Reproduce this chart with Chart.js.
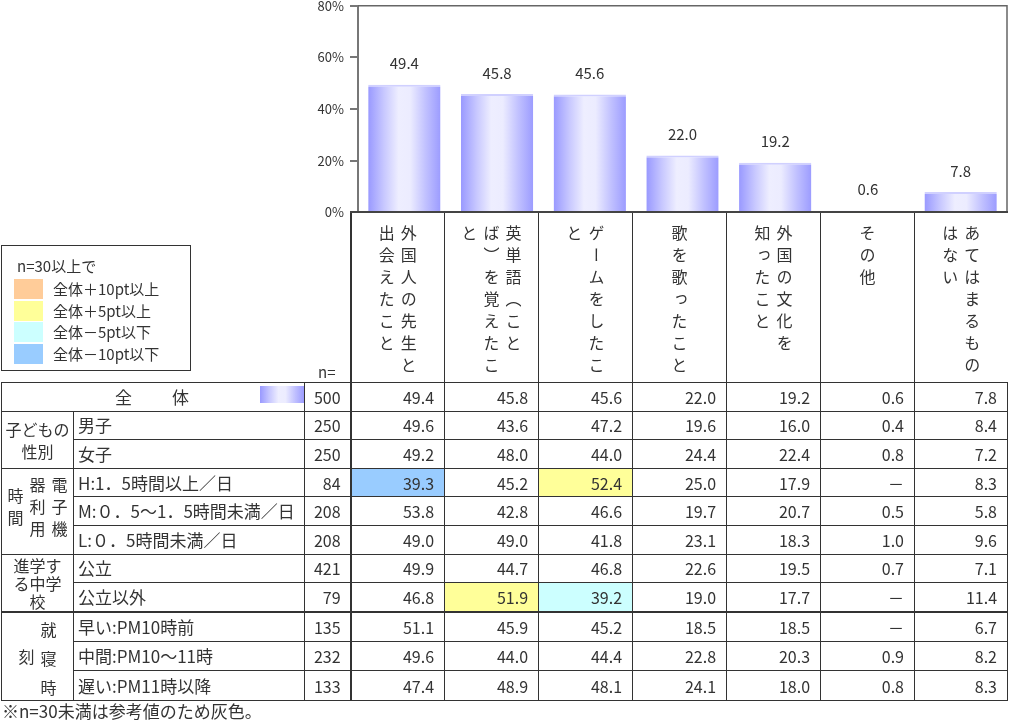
<!DOCTYPE html>
<html lang="ja">
<head>
<meta charset="utf-8">
<script src="https://cdn.jsdelivr.net/npm/chart.js"></script>
<style>
  body { margin: 0; width: 1010px; height: 720px; position: relative; overflow: hidden;
         background: #fff; color: #333; font-family: "Noto Sans CJK JP", sans-serif; }
  #chartBox { position: absolute; left: 0; top: -8px; width: 1010px; height: 234px; }
  #tbl { position: absolute; left: 1px; top: 211px; width: 1006px; border-collapse: collapse; table-layout: fixed; }
  #tbl td { padding: 0; font-size: 16px; line-height: 20px; height: 27.6px; white-space: nowrap; overflow: hidden; }
  #tbl tr.head td { height: 164px; vertical-align: top; }
  #tbl td.blank { border: none; }
  #tbl td.cat { border-left: 1px solid #333; border-top: 2px solid #444; text-align: center; }
  #tbl td.cat.first { border-left: 2px solid #333; }
  #tbl td.cat .v { display: inline-block; writing-mode: vertical-rl; height: 154px; margin-top: 12px;
                   font-size: 16px; line-height: 22px; letter-spacing: 6px; text-align: start; white-space: nowrap; }
  #tbl td.grp { border: 1px solid #333; text-align: center; vertical-align: middle; white-space: normal; }
  #tbl td.lbl { border: 1px solid #333; padding-left: 4px; font-size: 17px; }
  #tbl td.n { border: 1px solid #333; text-align: right; padding-right: 9px; }
  #tbl td.val { border: 1px solid #333; text-align: right; padding-right: 10px; }
  #tbl td.val.first { border-left: 2px solid #333; }
  #tbl tr.sub td.lbl, #tbl tr.sub td.n, #tbl tr.sub td.val { border-top: 1px dashed #999; }
  #tbl tr.thick td { border-top: 2px solid #333; }
  .vg { display: inline-block; writing-mode: vertical-rl; font-size: 16px; line-height: 22px; letter-spacing: 6px;
        text-align: center; white-space: nowrap; }
  #legend { position: absolute; left: 1px; top: 245px; width: 188px; height: 124px; border: 1px solid #333; background: #fff; }
  #legend .t { position: absolute; left: 15px; top: 9px; font-size: 15px; }
  #legend .sw { position: absolute; left: 12px; width: 29px; height: 20px; }
  #legend .tx { position: absolute; left: 51px; font-size: 15px; line-height: 20px; }
  #nlab { position: absolute; left: 318px; top: 361px; font-size: 15px; }
  #swatch { position: absolute; left: 260px; top: 386px; width: 44px; height: 17px;
            background: linear-gradient(to right, #9999ff, #c8c8ff 22%, #eeeeff 42%, #ececff 58%, #c0c0ff 80%, #9c9cff); }
  #note { position: absolute; left: 2px; top: 701px; font-size: 17px; line-height: 20px; }
</style>
</head>
<body>
<div id="chartBox"><canvas id="barChart" width="1010" height="234"></canvas></div>
<table id="tbl"></table>
<div id="legend"></div>
<div id="nlab">n=</div>
<div id="swatch"></div>
<div id="note">※n=30未満は参考値のため灰色。</div>

<script>
// categories, written as the lines shown in the vertical header
const categories = [
    ['外国人の先生と', '出会えたこと'],
    ['英単語（こと', 'ば）を覚えたこ', 'と'],
    ['ゲームをしたこ', 'と'],
    ['歌を歌ったこと'],
    ['外国の文化を', '知ったこと'],
    ['その他'],
    ['あてはまるもの', 'はない'],
];
const totalN = 500;
const totalValues = [49.4, 45.8, 45.6, 22.0, 19.2, 0.6, 7.8];
const yTicks = [0, 20, 40, 60, 80];

const groupLabels = ['子どもの<br>性別', '電子機<br>器利用<br>時間', '進学す<br>る中学<br>校', '就寝時<br>刻'];
const groupSizes = [2, 3, 2, 3];
const rowLabels = ['男子', '女子', 'H:1．5時間以上／日', 'M:０．5～1．5時間未満／日', 'L:０．5時間未満／日',
    '公立', '公立以外', '早い:PM10時前', '中間:PM10～11時', '遅い:PM11時以降'];
const rowN = [250, 250, 84, 208, 208, 421, 79, 135, 232, 133];
const rowValues = [
    [49.6, 43.6, 47.2, 19.6, 16.0, 0.4, 8.4],
    [49.2, 48.0, 44.0, 24.4, 22.4, 0.8, 7.2],
    [39.3, 45.2, 52.4, 25.0, 17.9, null, 8.3],
    [53.8, 42.8, 46.6, 19.7, 20.7, 0.5, 5.8],
    [49.0, 49.0, 41.8, 23.1, 18.3, 1.0, 9.6],
    [49.9, 44.7, 46.8, 22.6, 19.5, 0.7, 7.1],
    [46.8, 51.9, 39.2, 19.0, 17.7, null, 11.4],
    [51.1, 45.9, 45.2, 18.5, 18.5, null, 6.7],
    [49.6, 44.0, 44.4, 22.8, 20.3, 0.9, 8.2],
    [47.4, 48.9, 48.1, 24.1, 18.0, 0.8, 8.3],
];

const legendLabels = ['全体＋10pt以上', '全体＋5pt以上', '全体－5pt以下', '全体－10pt以下'];
const legendColors = ['#ffcc99', '#ffff99', '#ccffff', '#99ccff'];

function cellColor(v, total, n) {
    if (v === null || n < 30) return '';
    const d = v - total;
    if (d >= 10) return legendColors[0];
    if (d >= 5) return legendColors[1];
    if (d <= -10) return legendColors[3];
    if (d <= -5) return legendColors[2];
    return '';
}

// ---- table ----
let html = '<colgroup><col style="width:72px"><col style="width:231px"><col style="width:46px">';
for (let i = 0; i < 7; i++) html += `<col style="width:${i < 6 ? 94 : 93}px">`;
html += '</colgroup><tbody>';

html += '<tr class="head"><td class="blank" colspan="3"></td>';
categories.forEach((lines, i) => {
    html += `<td class="cat${i === 0 ? ' first' : ''}"><div class="v">${lines.join('<br>')}</div></td>`;
});
html += '</tr>';

html += `<tr><td class="lbl" colspan="2" style="text-align:center;padding-left:0;letter-spacing:2px">全　　体</td><td class="n">${totalN}</td>`;
totalValues.forEach((v, i) => {
    html += `<td class="val${i === 0 ? ' first' : ''}">${v.toFixed(1)}</td>`;
});
html += '</tr>';

let r = 0;
groupLabels.forEach((g, gi) => {
    for (let k = 0; k < groupSizes[gi]; k++) {
        let cls = k > 0 ? 'sub' : (gi === 3 ? 'thick' : '');
        html += `<tr class="${cls}">`;
        if (k === 0) {
            let inner;
            if (gi === 1) inner = `<div class="vg" style="height:66px">${g}</div>`;
            else if (gi === 3) inner = `<div class="vg" style="height:84px;letter-spacing:13px;position:relative;top:9px">${g}</div>`;
            else if (gi === 2) inner = `<div style="font-size:16px;line-height:18px;height:54px;overflow:hidden">${g}</div>`;
            else inner = `<div style="line-height:22px">${g}</div>`;
            html += `<td class="grp" rowspan="${groupSizes[gi]}">${inner}</td>`;
        }
        html += `<td class="lbl">${rowLabels[r]}</td><td class="n">${rowN[r]}</td>`;
        rowValues[r].forEach((v, i) => {
            const bg = cellColor(v, totalValues[i], rowN[r]);
            html += `<td class="val${i === 0 ? ' first' : ''}"${bg ? ` style="background:${bg}"` : ''}>${v === null ? '－' : v.toFixed(1)}</td>`;
        });
        html += '</tr>';
        r++;
    }
});
html += '</tbody>';
document.getElementById('tbl').innerHTML = html;

// ---- legend ----
let lg = '<div class="t">n=30以上で</div>';
legendLabels.forEach((t, i) => {
    const top = 33 + i * 21.7;
    lg += `<div class="sw" style="top:${top}px;background:${legendColors[i]}"></div>`;
    lg += `<div class="tx" style="top:${top}px">${t}</div>`;
});
document.getElementById('legend').innerHTML = lg;

// ---- chart ----
const barLabels = {
    id: 'barLabels',
    afterDatasetsDraw(chart) {
        const c = chart.ctx;
        c.save();
        c.font = '15px "Noto Sans CJK JP"';
        c.fillStyle = '#333';
        c.textAlign = 'center';
        c.textBaseline = 'middle';
        chart.getDatasetMeta(0).data.forEach((bar, i) => {
            c.fillText(totalValues[i].toFixed(1), bar.x, bar.y - 21);
        });
        c.restore();
    }
};

const plotFrame = {
    id: 'plotFrame',
    afterDraw(chart) {
        const a = chart.chartArea;
        const c = chart.ctx;
        c.save();
        c.strokeStyle = '#666';
        c.lineWidth = 1.5;
        c.beginPath();
        c.moveTo(a.left, a.top);
        c.lineTo(a.right, a.top);
        c.lineTo(a.right, a.bottom);
        c.stroke();
        c.restore();
    }
};

function barGradient(c) {
    const chart = c.chart;
    const xs = chart.scales.x;
    if (c.type !== 'data' || !xs) return '#b8b8ff';
    const cx = xs.getPixelForValue(c.dataIndex);
    const half = (xs.width / categories.length) * 0.78 / 2;
    if (!isFinite(cx) || !isFinite(half) || half <= 0) return '#b8b8ff';
    const g = chart.ctx.createLinearGradient(cx - half, 0, cx + half, 0);
    g.addColorStop(0, '#9999ff');
    g.addColorStop(0.22, '#c8c8ff');
    g.addColorStop(0.42, '#eeeeff');
    g.addColorStop(0.58, '#ececff');
    g.addColorStop(0.8, '#c0c0ff');
    g.addColorStop(1, '#9c9cff');
    return g;
}

new Chart(document.getElementById('barChart'), {
    type: 'bar',
    data: {
        labels: categories.map(l => l.join('')),
        datasets: [{
            data: totalValues,
            backgroundColor: barGradient,
            borderColor: '#d0d0ff',
            borderWidth: { top: 2, left: 0, right: 0, bottom: 0 },
            borderSkipped: 'bottom',
            barPercentage: 0.78,
            categoryPercentage: 1,
        }]
    },
    options: {
        responsive: false,
        animation: false,
        layout: { padding: { left: 0, right: 3, top: 6, bottom: 5 } },
        plugins: { legend: { display: false }, tooltip: { enabled: false } },
        scales: {
            x: { display: false },
            y: {
                min: 0,
                max: 80,
                ticks: {
                    stepSize: 20,
                    callback: v => yTicks.includes(v) ? v + '%' : '',
                    font: { size: 13, family: '"Noto Sans CJK JP"' },
                    color: '#333',
                    padding: 6,
                },
                afterFit(scale) { scale.width = 358; },
                grid: { drawOnChartArea: false, tickLength: 8, color: '#777', lineWidth: 2 },
                border: { color: '#777', width: 2 },
            },
        },
    },
    plugins: [barLabels, plotFrame],
});
</script>
</body>
</html>
